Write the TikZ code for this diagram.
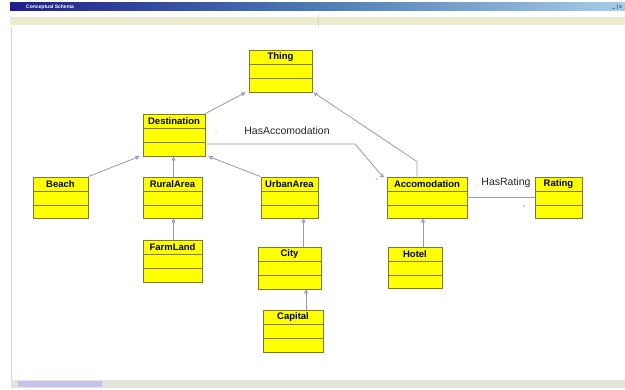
\documentclass[tikz,border=0pt]{standalone}
\usepackage{fontspec}
\setmainfont{Liberation Sans}
\usetikzlibrary{fit,calc,arrows.meta}
\definecolor{boxyellow}{HTML}{FFFF00}
\definecolor{boxborder}{HTML}{7A7A30}
\definecolor{linegray}{HTML}{9A9AA8}
\definecolor{tipblue}{HTML}{8C8CC8}
\definecolor{barleft}{HTML}{1E1E8C}
\definecolor{barmid}{HTML}{4C7CB4}
\definecolor{barright}{HTML}{A8CCE8}
\definecolor{toolband}{HTML}{EEEAD0}
\definecolor{framegray}{HTML}{D8D8D8}
\definecolor{scrollbg}{HTML}{E4E4DC}
\definecolor{scrollthumb}{HTML}{C4C4EE}
\tikzset{
  umlbox/.style={draw=boxborder, fill=boxyellow, line width=0.8pt, inner sep=0pt,
    path picture={
      \draw[boxborder, line width=0.7pt]
        ($(path picture bounding box.north west)!0.35!(path picture bounding box.south west)$) --
        ($(path picture bounding box.north east)!0.35!(path picture bounding box.south east)$)
        ($(path picture bounding box.north west)!0.68!(path picture bounding box.south west)$) --
        ($(path picture bounding box.north east)!0.68!(path picture bounding box.south east)$);
    }},
  umltitle/.style={font=\fontsize{9.5}{10}\selectfont\bfseries, inner sep=0pt, text=black},
  conn/.style={draw=linegray, line width=0.8pt},
  isa/.style={conn, -{Triangle[open, length=4pt, width=4pt, color=tipblue, fill=white]}},
  assoc/.style={conn, -{Straight Barb[length=3pt, width=4pt, color=tipblue]}},
  rolelabel/.style={font=\fontsize{10.5}{11}\selectfont, inner sep=0pt, text=black!85},
  umark/.style={font=\fontsize{6}{6}\selectfont, inner sep=0pt, text=tipblue}
}
\newcommand{\umlclass}[6]{%
  \node[umlbox, fit={(#2,#3) (#4,#5)}] (#1) {};
  \node[umltitle] (#1-t) at ($(#1.north)!0.18!(#1.south)$) {#6};
}
\begin{document}
\begin{tikzpicture}[x=1pt, y=-1pt]
\useasboundingbox (0,0) rectangle (625,390);
% window frame
\fill[white] (0,0) rectangle (625,390);
\shade[left color=barleft, right color=barright, middle color=barmid] (10,3) rectangle (625,11);
\node[font=\fontsize{5}{5}\selectfont\bfseries, text=white, anchor=west, inner sep=0pt] (wintitle) at (26,7) {Conceptual Schema};
\node[font=\fontsize{5}{5}\selectfont, text=black, anchor=east, inner sep=0pt] (winbtns) at (622,7) {\_ \textbar{} x};
\fill[toolband] (10,17) rectangle (625,25);
\draw[framegray] (318,15) -- (318,27);
\draw[framegray, line width=0.8pt] (11,27) -- (11,380);
\fill[scrollbg] (11,380) rectangle (625,388);
\fill[scrollthumb] (18,381) rectangle (102,387);
% classes
\umlclass{thing}{249}{50}{312}{92}{Thing}
\umlclass{destination}{143}{114}{205}{156}{Destination}
\umlclass{beach}{33}{177}{88}{218}{Beach}
\umlclass{rural}{143}{177}{202}{218}{RuralArea}
\umlclass{urban}{261}{177}{318}{218}{UrbanArea}
\umlclass{farm}{143}{240}{202}{282}{FarmLand}
\umlclass{city}{258}{247}{321}{289}{City}
\umlclass{capital}{263}{310}{323}{352}{Capital}
\umlclass{accom}{387}{177}{467}{218}{Accomodation}
\umlclass{rating}{535}{177}{582}{218}{Rating}
\umlclass{hotel}{388}{247}{442}{288}{Hotel}
% generalisations
\draw[isa] (destination.north east) -- ([xshift=-3pt]thing.south west);
\draw[isa] ([xshift=-10pt]accom.north) -- ++(0,-15) -- ([xshift=1pt]thing.south east);
\draw[isa] (beach.north east) -- ([xshift=-3pt]destination.south west);
\draw[isa] ([xshift=1pt]rural.north) -- ([xshift=1pt]rural.north |- destination.south);
\draw[isa] (urban.north west) -- ([xshift=3pt]destination.south east);
\draw[isa] ([xshift=1pt]farm.north) -- ([xshift=1pt]farm.north |- rural.south);
\draw[isa] ([xshift=14pt]city.north) -- ([xshift=14pt]city.north |- urban.south);
\draw[isa] ([xshift=13pt]capital.north) -- ([xshift=13pt]capital.north |- city.south);
\draw[isa] ([xshift=-4pt]hotel.north -| accom.north) -- ([xshift=-4pt]accom.south);
% associations
\coordinate (bend) at (355,144);
\draw[assoc] (destination.east |- bend) -- (bend) -- ([shift={(-3pt,-1pt)}]accom.north west);
\node[rolelabel] (hasacc) at (287,131) {HasAccomodation};
\node[umark] (m1) at (216,133) {-};
\node[umark] (m2) at (377,180) {*};
\draw[conn] (accom.east |- rating.west) -- (rating.west);
\node[rolelabel] (hasrat) at (506,183) {HasRating};
\node[umark] (m3) at (477,187) {-};
\node[umark] (m4) at (524,207) {*};
\end{tikzpicture}
\end{document}
